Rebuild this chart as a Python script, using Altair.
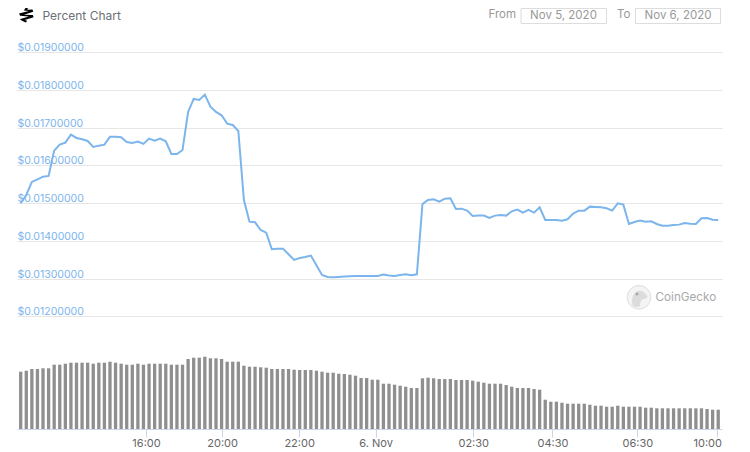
import altair as alt
import pandas as pd

# Price in thousandths of a dollar, one reading per bar
price_milli = [
    14.995, 15.216, 15.561, 15.631, 15.702, 15.720, 16.392, 16.551, 16.604, 16.816,
    16.728, 16.692, 16.648, 16.489, 16.524, 16.551, 16.763, 16.763, 16.745, 16.622,
    16.595, 16.630, 16.569, 16.710, 16.657, 16.710, 16.639, 16.303, 16.303, 16.409,
    17.417, 17.762, 17.736, 17.877, 17.559, 17.417, 17.329, 17.108, 17.073, 16.913,
    15.083, 14.508, 14.491, 14.287, 14.217, 13.775, 13.792, 13.792, 13.642, 13.492,
    13.545, 13.571, 13.607, 13.350, 13.094, 13.041, 13.032, 13.041, 13.050, 13.058,
    13.067, 13.067, 13.067, 13.067, 13.067, 13.103, 13.077, 13.067, 13.094, 13.111,
    13.085, 13.111, 14.977, 15.083, 15.101, 15.039, 15.118, 15.127, 14.844, 14.853,
    14.800, 14.659, 14.668, 14.668, 14.606, 14.668, 14.685, 14.668, 14.782, 14.827,
    14.747, 14.818, 14.747, 14.889, 14.553, 14.553, 14.553, 14.535, 14.570, 14.721,
    14.800, 14.800, 14.906, 14.897, 14.889, 14.862, 14.800, 14.995, 14.959, 14.447,
    14.500, 14.535, 14.508, 14.517, 14.447, 14.402, 14.402, 14.420, 14.429, 14.473,
    14.455, 14.447, 14.597, 14.606, 14.561, 14.553,
]
# Volume bars, in relative units
volume = [
    57.3, 58.3, 60, 60, 60.7, 60.7, 64.3, 64.3, 65.3, 66.3,
    66.3, 66.3, 66.3, 65.3, 66.3, 66.3, 67.3, 66.3, 65.3, 64.3,
    64.3, 65.3, 64.3, 65.3, 65.3, 65.3, 65.3, 64.3, 64.3, 64.3,
    70, 71.3, 71.3, 72.3, 70.7, 70.7, 70, 67.3, 67.3, 67.3,
    63.3, 62.3, 62.3, 61.7, 61.3, 60, 60, 60, 60, 59.3,
    59, 59, 59, 58.3, 57.3, 56.3, 56.3, 55.3, 55, 54.3,
    53.3, 51, 51, 49.3, 49.3, 45.3, 45.3, 44.3, 43.3, 42.3,
    41, 41, 50.7, 51.3, 50.7, 50, 50, 50, 49, 49,
    49, 48.3, 47.3, 46.3, 45.3, 45.3, 45.3, 44, 42.3, 41,
    41, 41, 40, 39.3, 29.3, 27.3, 27.3, 26.3, 25.3, 25.3,
    25.3, 25.3, 24.3, 23.3, 23.3, 22.3, 22.3, 23.3, 22.3, 22.3,
    22.3, 22.3, 21.3, 21.3, 20.7, 20.7, 20.7, 20.7, 20.7, 20.7,
    20.7, 20.7, 20.7, 20, 19.3, 19.3,
]
price_ticks = [0.012, 0.013, 0.014, 0.015, 0.016, 0.017, 0.018, 0.019]
tick_positions = [22.46, 36.1, 49.9, 63.6, 81.1, 95.3, 110.5, 124.8]
tick_labels = ["16:00", "20:00", "22:00", "6. Nov", "02:30", "04:30", "06:30", "10:00"]

FONT = "Inter"
BLUE = "#7cb5ec"
X_DOMAIN = [-0.663, 125.68]
OX, OY = 17, 8  # plot origin on the page

df = pd.DataFrame({
    "i": list(range(len(price_milli))),
    "price": [p / 1000 for p in price_milli],
    "volume": volume,
})

label_map = "{" + ",".join(f"'{p}':'{l}'" for p, l in zip(tick_positions, tick_labels)) + "}"
x = alt.X(
    "i:Q",
    scale=alt.Scale(domain=X_DOMAIN, nice=False, zero=False, padding=0),
    axis=alt.Axis(
        values=tick_positions, title=None, grid=False,
        labelExpr=f"{label_map}[''+datum.value]",
        labelFont=FONT, labelFontSize=11, labelColor="#666666",
        labelPadding=0, tickSize=8, tickColor="#ccd6eb",
        domainColor="#ccd6eb", labelOverlap=False, labelFlush=False, labelBound=False,
        labelAlign={"condition": {"test": "datum.value > 120", "value": "right"}, "value": "center"},
        labelOffset={"condition": {"test": "datum.value > 120", "value": 4.4}, "value": 0},
    ),
)

bars = alt.Chart(df).mark_bar(size=3.3, color="#8f8f8f", orient="vertical").encode(
    x=x,
    y=alt.Y("volume:Q", axis=None, scale=alt.Scale(domain=[0, 421], nice=False)),
)
line = alt.Chart(df).mark_line(color=BLUE, strokeWidth=2, interpolate="linear").encode(
    x=x,
    y=alt.Y(
        "price:Q",
        scale=alt.Scale(domain=[0.009008, 0.020175], nice=False, zero=False),
        axis=alt.Axis(
            values=price_ticks, title=None, format="$.8f", orient="left",
            grid=True, gridColor="#e6e6e6", gridWidth=1, domain=False, ticks=False,
            tickSize=0, labelPadding=0, labelAlign="left", labelBaseline="alphabetic",
            labelOffset=-1.5, labelFont=FONT, labelFontSize=10.5, labelColor=BLUE,
            labelOverlap=False, labelFlush=False, labelBound=False,
        ),
    ),
)

one = pd.DataFrame({"k": [0]})


def text(s, px, py, color, size, align="left"):
    return alt.Chart(one).mark_text(
        font=FONT, fontSize=size, color=color, align=align, baseline="middle"
    ).encode(x=alt.value(px - OX), y=alt.value(py - OY), text=alt.value(s))


def box(x0, x1, y0, y1):
    return alt.Chart(one).mark_rect(fill="#ffffff", stroke="#dddddd", strokeWidth=1).encode(
        x=alt.value(x0 - OX), x2=alt.value(x1 - OX), y=alt.value(y0 - OY), y2=alt.value(y1 - OY)
    )


def shape(path, px, py, size, fill, stroke=None):
    kw = {"strokeWidth": 1, "stroke": stroke} if stroke else {"strokeWidth": 0}
    return alt.Chart(one).mark_point(shape=path, size=size, filled=True, fill=fill, opacity=1, **kw).encode(
        x=alt.value(px - OX), y=alt.value(py - OY)
    )


icon_path = (
    "M-0.1,-1 L0.25,-0.85 L0.05,-0.7 L0.8,-0.75 L0.9,-0.45 L-0.35,-0.05 L0.85,0.0 L0.95,0.3 "
    "L-0.25,0.65 L0.1,0.75 L-0.1,1 L-0.6,0.75 L-0.9,0.55 L0.3,0.2 L-0.85,0.1 L-1,-0.2 L0.3,-0.55 L-0.35,-0.6 Z"
)
gecko_path = (
    "M-0.6,0.8 C-0.75,0.2 -0.6,-0.45 -0.1,-0.6 C0.2,-0.7 0.5,-0.5 0.7,-0.25 "
    "C0.85,-0.15 0.85,0.05 0.65,0.1 C0.3,0.2 0.1,0.3 0.1,0.85 C-0.15,0.95 -0.4,0.95 -0.6,0.8 Z"
)

chart = alt.layer(
    bars,
    line,
    shape(icon_path, 26.5, 15, 225, "#000000"),
    text("Percent Chart", 42.5, 15.5, "#6c7075", 12),
    text("From", 488.5, 14.5, "#999999", 11.5),
    box(521, 606.5, 8.5, 23.5),
    text("Nov 5, 2020", 563.5, 15.5, "#999999", 11.5, "center"),
    text("To", 617, 14.5, "#999999", 11.5),
    box(635.5, 720.5, 8.5, 23.5),
    text("Nov 6, 2020", 678, 15.5, "#999999", 11.5, "center"),
    shape("circle", 639, 297.3, 560, "#f4f4f4", "#dedede"),
    shape(gecko_path, 639, 297.3, 440, "#dcdcdc"),
    shape("circle", 637, 294, 9, "#a8a8a8"),
    text("CoinGecko", 655.5, 296.8, "#aaaaaa", 11.7),
).resolve_scale(y="independent").properties(
    width=705,
    height=421,
    autosize=alt.AutoSizeParams(type="none"),
    padding={"left": 9, "top": 0, "right": 15, "bottom": 19},
    background="#ffffff",
).configure_view(stroke=None)

chart.save("out.html", embed_options={"renderer": "svg", "actions": False})
